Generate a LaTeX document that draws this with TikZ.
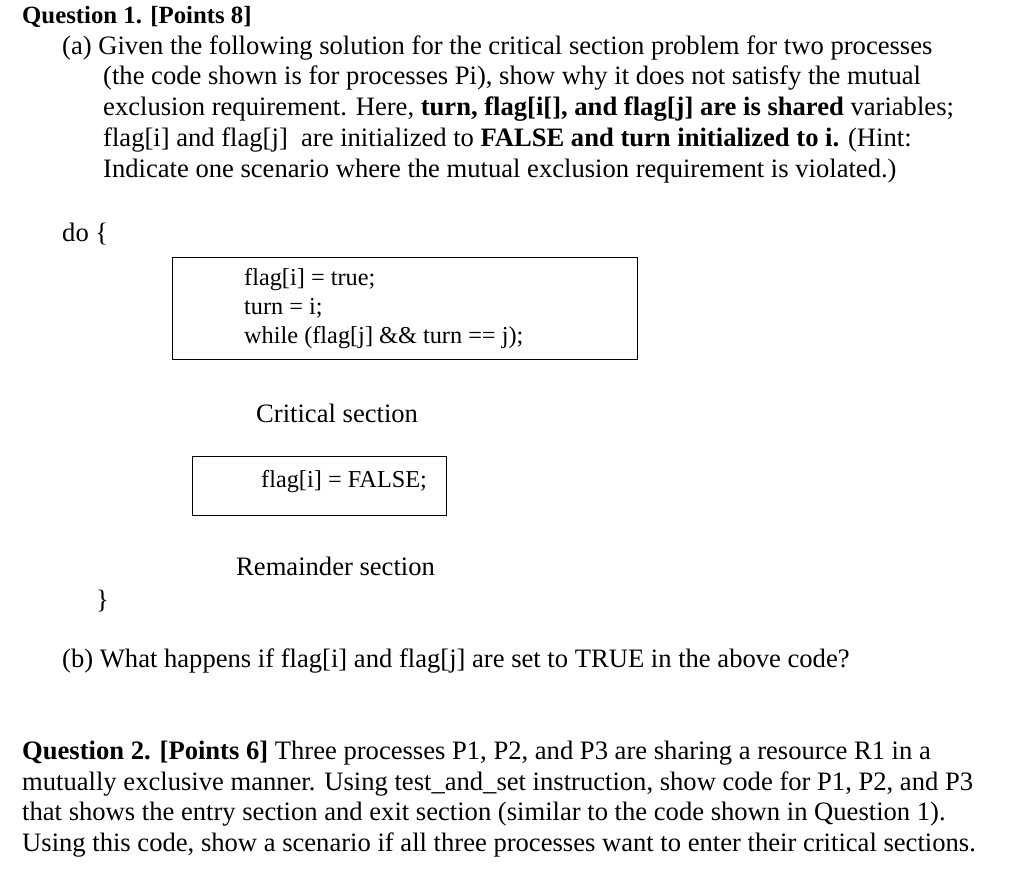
\documentclass[tikz,border=0pt]{standalone}
\usepackage{fontspec}
\setmainfont{Liberation Serif}
\begin{document}
\begin{tikzpicture}[x=1pt,y=-1pt,
  t/.style={anchor=base west,inner sep=0pt,font=\fontsize{26.6}{30}\selectfont},
  c/.style={anchor=base west,inner sep=0pt,font=\fontsize{24.3}{28}\selectfont},
  box/.style={draw,line width=1pt}]
\useasboundingbox[fill=white] (0,0) rectangle (1024,872);
\node[t,font=\fontsize{24.8}{30}\selectfont] (q1) at (22,24) {\textbf{Question 1. [Points 8]}};
\node[t] (a1) at (62,55) {(a) Given the following solution for the critical section problem for two processes};
\node[t] (a2) at (103,85) {(the code shown is for processes Pi), show why it does not satisfy the mutual};
\node[t] (a3) at (103,116) {exclusion requirement. Here, \textbf{turn, flag[i[], and flag[j] are is shared} variables;};
\node[t] (a4) at (103,146) {flag[i] and flag[j]\ \ are initialized to \textbf{FALSE and turn initialized to i.} (Hint:};
\node[t] (a5) at (103,177) {Indicate one scenario where the mutual exclusion requirement is violated.)};
\node[t] (do) at (62,241) {do \{};
\draw[box] (172,257) rectangle (637,359);
\node[c] (c1) at (244,285) {flag[i] = true;};
\node[c] (c2) at (244,314) {turn = i;};
\node[c] (c3) at (244,343) {while (flag[j] \&\& turn == j);};
\node[t] (cs) at (256,422) {Critical section};
\draw[box] (192,456) rectangle (446,515);
\node[c] (c4) at (261,487) {flag[i] = FALSE;};
\node[t] (rs) at (236,575) {Remainder section};
\node[t] (cb) at (96,608) {\}};
\node[t] (b) at (62,667) {(b) What happens if flag[i] and flag[j] are set to TRUE in the above code?};
\node[t] (q2a) at (22,759) {\textbf{Question 2. [Points 6]} Three processes P1, P2, and P3 are sharing a resource R1 in a};
\node[t] (q2b) at (22,790) {mutually exclusive manner. Using test\_and\_set instruction, show code for P1, P2, and P3};
\node[t] (q2c) at (22,820) {that shows the entry section and exit section (similar to the code shown in Question 1).};
\node[t] (q2d) at (22,851) {Using this code, show a scenario if all three processes want to enter their critical sections.};
\end{tikzpicture}
\end{document}
